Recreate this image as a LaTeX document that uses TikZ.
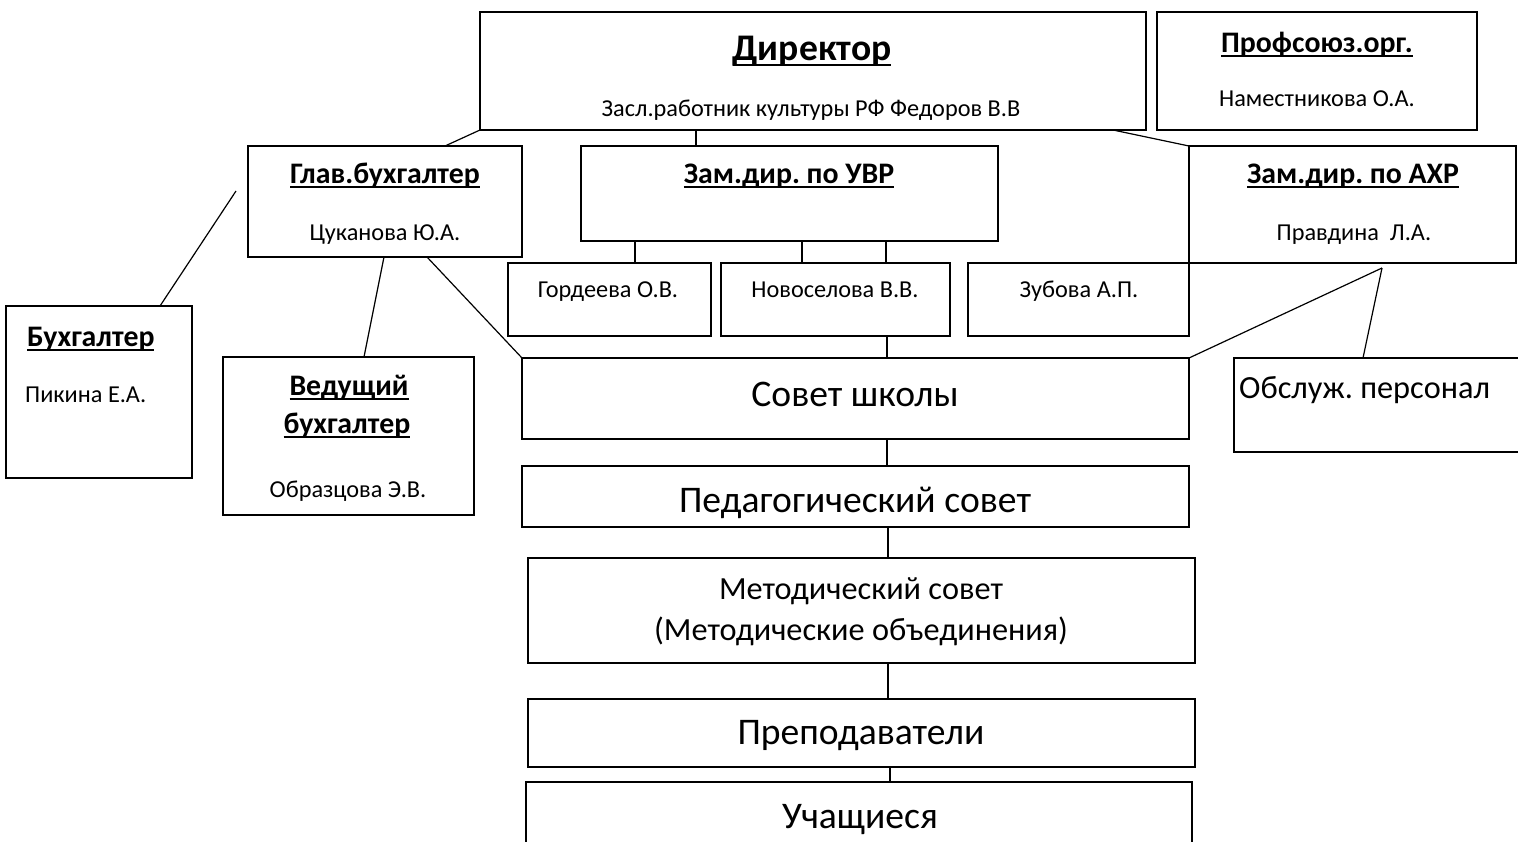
\documentclass[tikz,border=0pt]{standalone}
\usepackage{fontspec}
\setmainfont{Carlito}
\usetikzlibrary{positioning}
\frenchspacing

\newcommand\szname{\fontsize{24.3}{29}\selectfont}
\newcommand\szhead{\fontsize{29.8}{35}\selectfont\bfseries}
\newcommand\szdir{\fontsize{37.6}{45}\selectfont\bfseries}
\newcommand\szbig{\fontsize{37.6}{45}\selectfont}
\newcommand\szmid{\fontsize{32.3}{38}\selectfont}
\newcommand\uln[1]{{\setbox0\hbox{#1}\rlap{\rule[-0.16em]{\wd0}{0.06em}}\box0}}

\tikzset{
  unit/.style={draw, line width=1.6pt, anchor=north west, inner sep=0pt, outer sep=0pt},
  link/.style={line width=1.2pt},
  txt/.style={anchor=base, inner sep=0pt},
}

\begin{document}
\begin{tikzpicture}[x=1pt, y=-1pt]
\useasboundingbox (0,0) rectangle (1518,841);
\clip (0,0) rectangle (1518,841);

% boxes
\node[unit, minimum width=666pt, minimum height=118pt] (dir) at (480,12) {};
\node[unit, minimum width=320pt, minimum height=118pt] (prof) at (1157,12) {};
\node[unit, minimum width=274pt, minimum height=111pt] (glav) at (248,146) {};
\node[unit, minimum width=417pt, minimum height=95pt] (uvr) at (581,146) {};
\node[unit, minimum width=327pt, minimum height=117pt] (ahr) at (1189,146) {};
\node[unit, minimum width=203pt, minimum height=73pt] (gord) at (508,263) {};
\node[unit, minimum width=229pt, minimum height=73pt] (novo) at (721,263) {};
\node[unit, minimum width=221pt, minimum height=73pt] (zub) at (968,263) {};
\node[unit, minimum width=667pt, minimum height=81pt] (sovet) at (522,358) {};
\node[unit, minimum width=667pt, minimum height=61pt] (ped) at (522,466) {};
\node[unit, minimum width=667pt, minimum height=105pt] (metod) at (528,558) {};
\node[unit, minimum width=667pt, minimum height=68pt] (prep) at (528,699) {};
\node[unit, minimum width=666pt, minimum height=90pt] (uch) at (526,782) {};
\node[unit, minimum width=186pt, minimum height=172pt] (buh) at (6,306) {};
\node[unit, minimum width=251pt, minimum height=158pt] (ved) at (223,357) {};
\node[unit, minimum width=320pt, minimum height=94pt] (obs) at (1234,358) {};

% texts
\node[txt, font=\szdir] (dirT) at (812,60) {\uln{Директор}};
\node[txt, font=\szname] (dirN) at (811,116) {Засл.работник культуры РФ Федоров В.В};
\node[txt, font=\szhead] (profT) at (1317,52) {\uln{Профсоюз.орг.}};
\node[txt, font=\szname] (profN) at (1317,106) {Наместникова О.А.};
\node[txt, font=\szhead] (glavT) at (385,183) {\uln{Глав.бухгалтер}};
\node[txt, font=\szname] (glavN) at (385,240) {Цуканова Ю.А.};
\node[txt, font=\szhead] (uvrT) at (789,183) {\uln{Зам.дир. по УВР}};
\node[txt, font=\szhead] (ahrT) at (1353,183) {\uln{Зам.дир. по АХР}};
\node[txt, font=\szname] (ahrN) at (1354,240) {Правдина~~Л.А.};
\node[txt, font=\szname] (gordN) at (608,297) {Гордеева О.В.};
\node[txt, font=\szname] (novoN) at (835,297) {Новоселова В.В.};
\node[txt, font=\szname] (zubN) at (1079,297) {Зубова А.П.};
\node[txt, font=\szbig] (sovetT) at (855,406) {Совет школы};
\node[txt, font=\szbig] (pedT) at (855,512) {Педагогический совет};
\node[txt, font=\szmid] (metodT) at (861,599) {Методический совет};
\node[txt, font=\szmid] (metodS) at (861,640) {(Методические объединения)};
\node[txt, font=\szbig] (prepT) at (861,744) {Преподаватели};
\node[txt, font=\szbig] (uchT) at (860,828) {Учащиеся};
\node[txt, anchor=base west, font=\szhead] (buhT) at (27,346) {\uln{Бухгалтер}};
\node[txt, anchor=base west, font=\szname] (buhN) at (25,402) {Пикина Е.А.};
\node[txt, font=\szhead] (vedT) at (349,395) {\uln{Ведущий}};
\node[txt, font=\szhead] (vedS) at (347,433) {\uln{бухгалтер}};
\node[txt, font=\szname] (vedN) at (348,497) {Образцова Э.В.};
\node[txt, anchor=base west, font=\szmid] (obsT) at (1239,398) {Обслуж. персонал};

% connectors
\coordinate (buhfree) at (236,191);
\coordinate (ahrfree) at (1382,268);
\draw[link] (dir.south west) -- ([xshift=197pt]glav.north west);
\draw[link] ([xshift=216pt]dir.south west) -- ([xshift=115pt]uvr.north west);
\draw[link] ([xshift=-33pt]dir.south east) -- (ahr.north west);
\draw[link] (buhfree) -- ([xshift=154pt]buh.north west);
\draw[link] ([xshift=136pt]glav.south west) -- ([xshift=141pt]ved.north west);
\draw[link] ([xshift=179pt]glav.south west) -- (sovet.north west);
\draw[link] ([xshift=54pt]uvr.south west) -- ([xshift=127pt]gord.north west);
\draw[link] ([xshift=221pt]uvr.south west) -- ([xshift=81pt]novo.north west);
\draw[link] ([xshift=305pt]uvr.south west) -- ([xshift=165pt]novo.north west);
\draw[link] ([xshift=166pt]novo.south west) -- ([xshift=365pt]sovet.north west);
\draw[link] ([xshift=365pt]sovet.south west) -- ([xshift=365pt]ped.north west);
\draw[link] ([xshift=366pt]ped.south west) -- ([xshift=360pt]metod.north west);
\draw[link] ([xshift=360pt]metod.south west) -- ([xshift=360pt]prep.north west);
\draw[link] ([xshift=362pt]prep.south west) -- ([xshift=364pt]uch.north west);
\draw[link] (ahrfree) -- (sovet.north east);
\draw[link] (ahrfree) -- ([xshift=129pt]obs.north west);
\end{tikzpicture}
\end{document}
